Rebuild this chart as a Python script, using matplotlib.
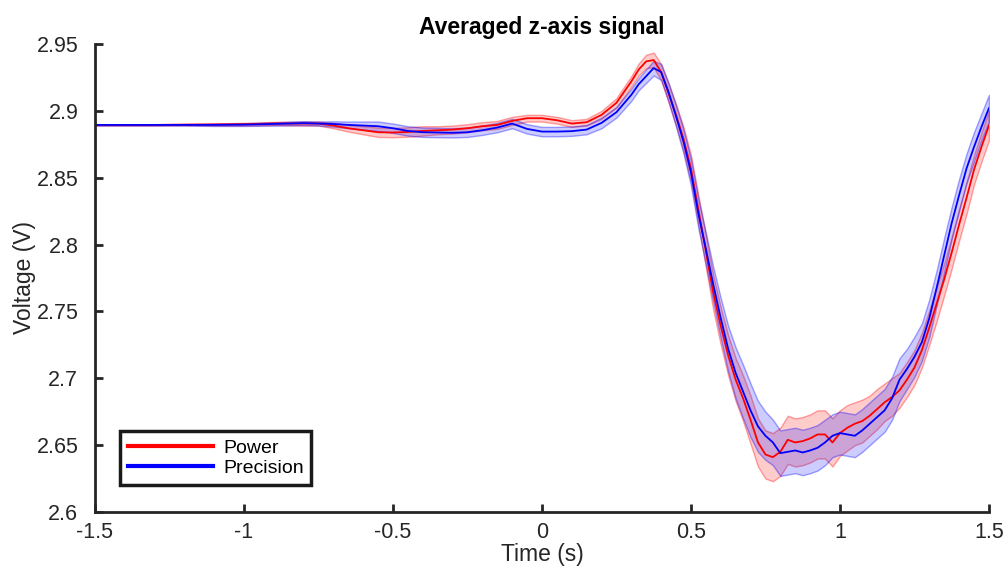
import numpy as np
import matplotlib
matplotlib.use("Agg")
import matplotlib.pyplot as plt

########## data ##########

# time grid (s)
time = ([-1.5, -1.4, -1.3, -1.2, -1.1, -1.0, -0.9, -0.8]
        + [-0.75, -0.7, -0.65, -0.6, -0.55, -0.5, -0.45, -0.4, -0.35, -0.3, -0.25,
           -0.2, -0.15, -0.1, -0.05, 0.0, 0.05, 0.1, 0.15, 0.2, 0.25, 0.3]
        + [0.325, 0.35, 0.375, 0.4, 0.425, 0.45, 0.475, 0.5, 0.525, 0.55, 0.575, 0.6,
           0.625, 0.65, 0.675, 0.7, 0.725, 0.75, 0.775, 0.8, 0.825, 0.85, 0.875, 0.9,
           0.925, 0.95, 0.975, 1.0, 1.025, 1.05, 1.075, 1.1, 1.125, 1.15, 1.175, 1.2,
           1.225, 1.25, 1.275, 1.3, 1.325, 1.35, 1.375, 1.4, 1.425, 1.45, 1.475, 1.5])

power_mean = ([2.8895, 2.8895, 2.8895, 2.8897, 2.8898, 2.8900, 2.8905, 2.8905]
              + [2.8905, 2.889, 2.887, 2.8855, 2.884, 2.8838, 2.8842, 2.885, 2.8855, 2.886, 2.887,
                 2.8885, 2.8895, 2.8925, 2.8945, 2.8945, 2.893, 2.8905, 2.8915, 2.897, 2.906, 2.922]
              + [2.931, 2.937, 2.938, 2.929, 2.913, 2.897, 2.879, 2.857, 2.826, 2.795, 2.764, 2.739,
                 2.717, 2.699, 2.685, 2.669, 2.652, 2.643, 2.641, 2.645, 2.654, 2.652, 2.653, 2.655,
                 2.658, 2.658, 2.652, 2.659, 2.663, 2.666, 2.668, 2.672, 2.677, 2.682, 2.686, 2.691,
                 2.699, 2.708, 2.721, 2.738, 2.756, 2.774, 2.794, 2.815, 2.835, 2.856, 2.873, 2.889])

power_err = ([0.0005, 0.0005, 0.0005, 0.0005, 0.0008, 0.001, 0.0012, 0.0015]
             + [0.0015, 0.002, 0.0025, 0.003, 0.0035, 0.0035, 0.0035, 0.0035, 0.003, 0.003, 0.003,
                0.003, 0.003, 0.003, 0.0025, 0.0025, 0.0025, 0.0025, 0.0025, 0.003, 0.0035, 0.004]
             + [0.0045, 0.005, 0.0055, 0.006, 0.007, 0.008, 0.009, 0.010, 0.011, 0.012, 0.013, 0.014,
                0.015, 0.016, 0.017, 0.018, 0.018, 0.018, 0.018, 0.018, 0.018, 0.018, 0.018, 0.018,
                0.018, 0.018, 0.018, 0.017, 0.017, 0.016, 0.016, 0.015, 0.015, 0.014, 0.014, 0.013,
                0.013, 0.013, 0.013, 0.013, 0.013, 0.012, 0.012, 0.012, 0.012, 0.011, 0.011, 0.011])

precision_mean = ([2.8895, 2.8895, 2.8895, 2.8895, 2.8895, 2.8897, 2.8902, 2.8908]
                  + [2.8905, 2.8902, 2.8895, 2.889, 2.8885, 2.887, 2.885, 2.884, 2.8838, 2.8836, 2.884,
                     2.8855, 2.8875, 2.8905, 2.8865, 2.8845, 2.8845, 2.8848, 2.886, 2.891, 2.899, 2.912]
                  + [2.920, 2.926, 2.932, 2.929, 2.914, 2.896, 2.877, 2.854, 2.823, 2.797, 2.770, 2.745,
                     2.722, 2.704, 2.690, 2.676, 2.664, 2.657, 2.652, 2.644, 2.645, 2.646, 2.6445, 2.646,
                     2.648, 2.652, 2.657, 2.659, 2.658, 2.657, 2.661, 2.666, 2.671, 2.676, 2.685, 2.699,
                     2.707, 2.716, 2.727, 2.745, 2.768, 2.792, 2.816, 2.837, 2.857, 2.873, 2.888, 2.902])

precision_err = ([0.0005, 0.0005, 0.0005, 0.0005, 0.0008, 0.001, 0.0012, 0.0015]
                 + [0.0015, 0.002, 0.0025, 0.003, 0.0035, 0.0035, 0.0035, 0.0035, 0.0035, 0.0035, 0.0035,
                    0.0035, 0.0035, 0.0035, 0.0035, 0.0035, 0.0035, 0.0035, 0.0035, 0.004, 0.004, 0.0045]
                 + [0.0045, 0.005, 0.0055, 0.006, 0.007, 0.008, 0.009, 0.010, 0.011, 0.012, 0.013, 0.015,
                    0.017, 0.019, 0.020, 0.020, 0.019, 0.018, 0.017, 0.017, 0.017, 0.017, 0.017, 0.017,
                    0.017, 0.017, 0.016, 0.016, 0.016, 0.016, 0.016, 0.016, 0.016, 0.016, 0.016, 0.016,
                    0.015, 0.015, 0.014, 0.014, 0.013, 0.013, 0.012, 0.012, 0.011, 0.011, 0.010, 0.010])

x_ticks = [-1.5, -1, -0.5, 0, 0.5, 1, 1.5]
x_ticklabels = ["-1.5", "-1", "-0.5", "0", "0.5", "1", "1.5"]
y_ticks = [2.6, 2.65, 2.7, 2.75, 2.8, 2.85, 2.9, 2.95]
y_ticklabels = ["2.6", "2.65", "2.7", "2.75", "2.8", "2.85", "2.9", "2.95"]

########## plot ##########

plt.rcParams['font.family'] = ['Liberation Sans', 'DejaVu Sans']
plt.rcParams['axes.unicode_minus'] = False

fig = plt.figure(figsize=(10.05, 5.70), dpi=100)
ax = fig.add_axes([0.0945, 0.1018, 0.8895, 0.821])

t = np.array(time)
series = [
    ("Power", np.array(power_mean), np.array(power_err), (1, 0, 0)),
    ("Precision", np.array(precision_mean), np.array(precision_err), (0, 0, 1)),
]

for name, m, e, c in series:
    ax.fill_between(t, m - e, m + e, facecolor=c + (0.2,), edgecolor=c + (0.35,), lw=1.0)
for name, m, e, c in series:
    ax.plot(t, m, color=c, lw=1.3, label=name)

ax.set_xlim(-1.5, 1.5)
ax.set_ylim(2.6, 2.95)
ax.set_xticks(x_ticks)
ax.set_xticklabels(x_ticklabels)
ax.set_yticks(y_ticks)
ax.set_yticklabels(y_ticklabels)

for s in ["top", "right"]:
    ax.spines[s].set_visible(False)
for s in ["left", "bottom"]:
    ax.spines[s].set_linewidth(2.0)
    ax.spines[s].set_color("#262626")
ax.tick_params(direction="in", length=6, width=2.0, color="#262626",
               labelsize=15.5, labelcolor="#262626")
ax.tick_params(axis="x", pad=7)
ax.tick_params(axis="y", pad=12)

ax.set_xlabel("Time (s)", fontsize=16.5, color="#262626", labelpad=0)
ax.set_ylabel("Voltage (V)", fontsize=16.5, color="#262626", labelpad=0)
ax.set_title("Averaged z-axis signal", fontsize=16.5, fontweight="bold", pad=7)

leg = ax.legend(loc="lower left", bbox_to_anchor=(0.028, 0.058), fontsize=14,
                handlelength=4.4, fancybox=False, framealpha=1, borderpad=0.4,
                labelspacing=0.15, handletextpad=0.5, borderaxespad=0)
leg.get_frame().set_edgecolor("#1a1a1a")
leg.get_frame().set_linewidth(2.5)
for line in leg.get_lines():
    line.set_linewidth(3)

fig.savefig("out.png", dpi=100)
